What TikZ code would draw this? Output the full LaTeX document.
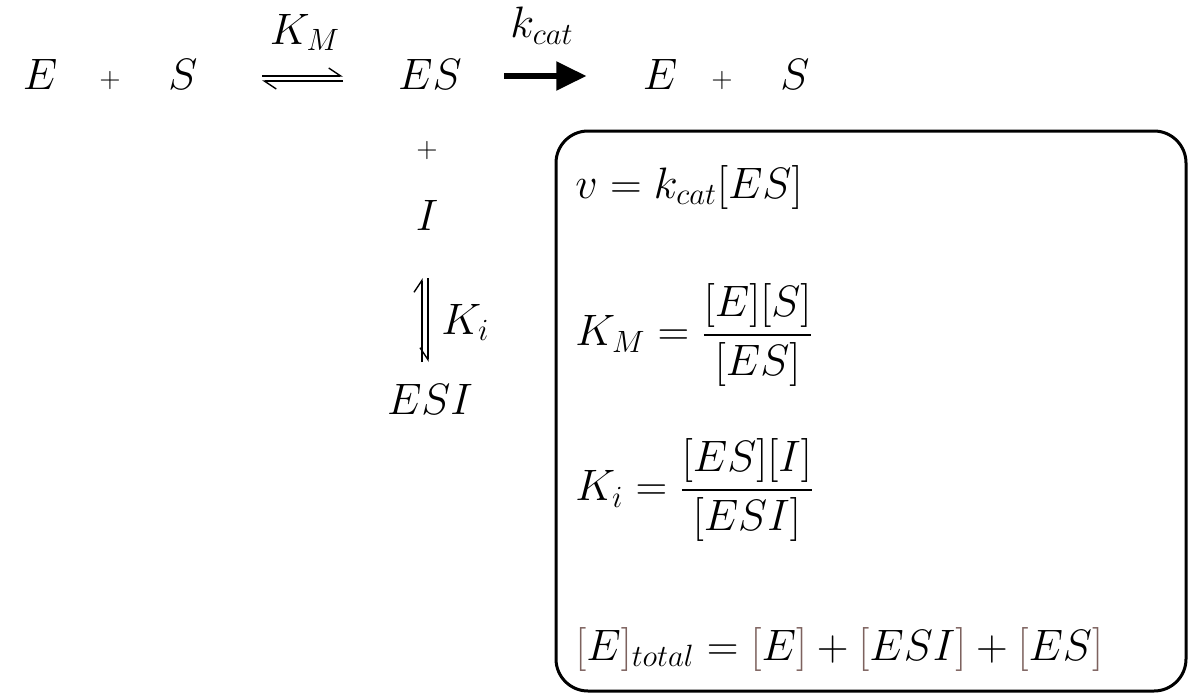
\RequirePackage{fix-cm}
\documentclass[tikz,border=0pt]{standalone}
\usepackage{amsmath}
\usetikzlibrary{arrows.meta}
\definecolor{bracketbrown}{RGB}{125,98,94}
\newcommand{\bbr}[1]{\textcolor{bracketbrown}{[}#1\textcolor{bracketbrown}{]}}

\begin{document}
\begin{tikzpicture}[x=0.5pt, y=-0.5pt, every node/.style={font=\fontsize{22}{26}\selectfont, inner sep=0pt}]
\tikzset{
  plus/.style={font=\fontsize{14}{16}\selectfont},
  harp/.style={line width=0.7pt, -{Straight Barb[harpoon, length=6pt, width=8pt]}},
  harpswap/.style={line width=0.7pt, -{Straight Barb[harpoon, swap, length=6pt, width=8pt]}},
}
\useasboundingbox (0,0) rectangle (1189,696);
% top row
\node[anchor=base] (E1) at (40,89) {$E$};
\node[plus] (p1) at (110,80) {$+$};
\node[anchor=base] (S1) at (183,89) {$S$};
\node[anchor=base] (ES) at (430,89) {$ES$};
\node[anchor=base] (E2) at (660,89) {$E$};
\node[plus] (p2) at (722,80) {$+$};
\node[anchor=base] (S2) at (795,89) {$S$};
% equilibrium E + S <-> ES
\coordinate (h1) at (262,76);
\coordinate (h2) at (343,76);
\coordinate (h3) at (262,81);
\coordinate (h4) at (343,81);
\draw[harp] (h1) -- (h2);
\draw[harp] (h4) -- (h3);
\node[anchor=base] (KM) at (305,44) {$K_M$};
% catalytic step
\draw[line width=2.6pt, -{Triangle[length=15pt, width=14pt]}] ([xshift=21pt]ES.east |- 0,76) -- ([xshift=-28pt]E2.west |- 0,76);
\node[anchor=base] (kcat) at (542,38) {$k_{cat}$};
% inhibitor branch
\node[plus] (p3) at (427,150) {$+$};
\node[anchor=base] (I) at (427,230) {$I$};
\node[anchor=base] (ESI) at (430,414) {$ESI$};
\coordinate (v1) at (422,362);
\coordinate (v2) at (422,278);
\coordinate (v3) at (428,278);
\coordinate (v4) at (428,362);
\draw[harp] (v1) -- (v2);
\draw[harpswap] (v3) -- (v4);
\node[anchor=base west] (Ki) at (441,334) {$K_i$};
% rate expressions
\node[draw, line width=1.5pt, rounded corners=16pt, minimum width=315pt, minimum height=280pt] (box) at (871,411) {};
\node[anchor=base west] (rate) at (575,198) {$v = k_{cat}[ES]$};
\node[anchor=west] (KMeq) at (575,335) {$\displaystyle K_M = \frac{[E][S]}{[ES]}$};
\node[anchor=west] (Kieq) at (575,490) {$\displaystyle K_i = \frac{[ES][I]}{[ESI]}$};
\node[anchor=base west] (total) at (575,660) {$\bbr{E}_{total} = \bbr{E} + \bbr{ESI} + \bbr{ES}$};
\end{tikzpicture}
\end{document}
